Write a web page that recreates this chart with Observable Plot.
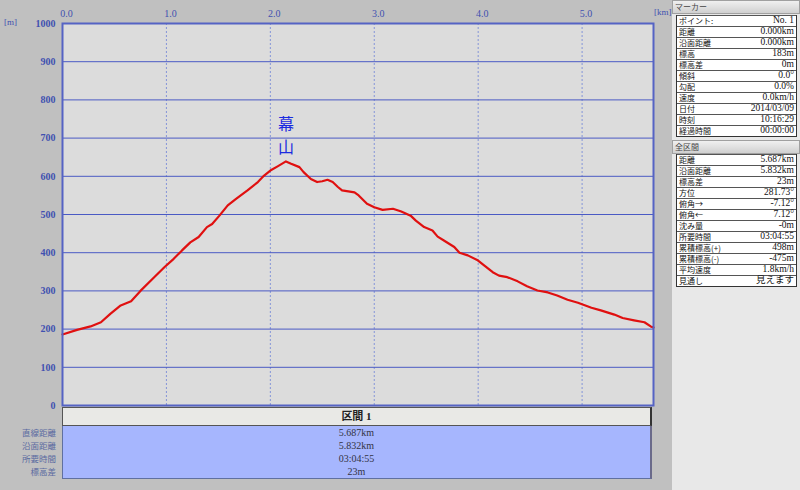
<!DOCTYPE html>
<html><head><meta charset="utf-8">
<script src="https://cdn.jsdelivr.net/npm/d3@7"></script>
<script src="https://cdn.jsdelivr.net/npm/@observablehq/plot@0.6"></script>
<style>
html,body{margin:0;padding:0;width:800px;height:490px;overflow:hidden;background:#c0c0c0;font-family:"Liberation Serif","Noto Sans CJK JP",serif;}
#main{position:absolute;left:0;top:0;width:672px;height:490px;background:#c0c0c0;}
#chart{position:absolute;left:0;top:0;}
.axlab{position:absolute;font-size:9px;color:#4050b0;white-space:nowrap;}
#sec{position:absolute;left:62px;top:407px;width:590px;}
#sechead{height:17px;background:#e9e9e6;border:1px solid #555;border-right:2px solid #333;text-align:center;font-size:11px;line-height:17px;font-weight:bold;color:#222;}
#secbody{background:#a6b6fe;border:1px solid #6070a0;border-right:2px solid #6a6a8a;border-top:none;height:52px;}
.secrow{height:13px;line-height:13px;font-size:10px;text-align:center;color:#334;}
#seclabels{position:absolute;left:0;top:426px;width:56px;}
.seclab{height:13px;line-height:13px;font-size:8.5px;text-align:right;color:#5a6aa0;font-family:"Noto Sans CJK JP",sans-serif;}
#side{position:absolute;left:672px;top:0;width:128px;height:490px;background:#e8e8e8;}
.shead{position:absolute;left:0;width:124px;height:12px;background:linear-gradient(#f0f0f0,#d0d0d0);border:1px solid #a0a0a0;font-size:8px;line-height:12px;padding-left:2px;color:#444;font-family:"Noto Sans CJK JP",sans-serif;}
.st{position:absolute;left:4px;width:119px;background:#fff;border:1px solid #333;border-top:none;}
.row{position:relative;height:10px;border-top:1px solid #555;}
.row .l{position:absolute;left:2px;top:-1px;font-size:8px;line-height:11px;font-family:"Noto Sans CJK JP",sans-serif;color:#111;white-space:nowrap;}
.row .v{position:absolute;right:2px;top:-1px;font-size:9.5px;line-height:11px;color:#111;white-space:nowrap;}
</style></head>
<body>
<div id="main">
  <div id="chart"></div>
  <div class="axlab" style="left:4px;top:17px;">[m]</div>
  <div class="axlab" style="left:654px;top:7px;">[km]</div>
  <div id="seclabels"></div>
  <div id="sec"><div id="sechead"></div><div id="secbody"></div></div>
</div>
<div id="side">
  <div class="shead" style="top:0;">マーカー</div>
  <div class="st" id="t1" style="top:15px;"></div>
  <div class="shead" style="top:140px;">全区間</div>
  <div class="st" id="t2" style="top:154px;"></div>
</div>
<script>
// ---- data ----
const distanceKm = [0.00,0.14,0.27,0.37,0.46,0.56,0.66,0.75,0.88,0.98,1.07,1.15,1.23,1.31,1.39,1.44,1.51,1.59,1.67,1.78,1.88,1.94,2.00,2.07,2.15,2.20,2.28,2.32,2.39,2.45,2.50,2.55,2.60,2.65,2.69,2.81,2.85,2.93,3.00,3.08,3.18,3.26,3.35,3.40,3.48,3.56,3.61,3.67,3.77,3.82,3.90,3.99,4.06,4.14,4.20,4.28,4.38,4.47,4.57,4.67,4.76,4.86,4.96,5.09,5.18,5.31,5.39,5.50,5.60,5.66,5.687];
const elevationM = [186,198,207,218,240,262,273,300,335,362,384,406,427,441,467,475,497,524,541,563,585,602,615,626,639,633,624,611,593,585,587,591,585,572,563,558,550,528,519,512,515,508,497,484,467,458,442,432,415,400,393,381,366,349,340,336,325,312,301,296,288,277,269,256,249,238,229,223,218,207,204];
const totalKm = 5.687;
const xTicks = [0,1,2,3,4,5];
const yTicks = [0,100,200,300,400,500,600,700,800,900,1000];
const peakName = ["幕\n山"];
const peakKm = [2.15];
const peakElev = [639];

const sectionTitle = "区間 1";
const sectionLabels = ["直線距離","沿面距離","所要時間","標高差"];
const sectionValues = ["5.687km","5.832km","03:04:55","23m"];

const markerLabels = ["ポイント:","距離","沿面距離","標高","標高差","傾斜","勾配","速度","日付","時刻","経過時間"];
const markerValues = ["No. 1","0.000km","0.000km","183m","0m","0.0°","0.0%","0.0km/h","2014/03/09","10:16:29","00:00:00"];
const totalLabels = ["距離","沿面距離","標高差","方位","俯角→","俯角←","沈み量","所要時間","累積標高(+)","累積標高(-)","平均速度","見通し"];
const totalValues = ["5.687km","5.832km","23m","281.73°","-7.12°","7.12°","-0m","03:04:55","498m","-475m","1.8km/h","見えます"];

// ---- chart ----
const profile = distanceKm.map((d,i)=>({km:d, elev:elevationM[i]}));
const peak = peakName.map((n,i)=>({name:n, km:peakKm[i], elev:peakElev[i]}));

const chart = Plot.plot({
  width: 672, height: 412,
  marginLeft: 62, marginRight: 19, marginTop: 23, marginBottom: 7,
  style: {background:"transparent", fontSize:"10px", fontFamily:"'Liberation Serif', serif", color:"#4050b0"},
  x: {domain:[0,totalKm], label:null},
  y: {domain:[0,1000], label:null},
  marks: [
    Plot.frame({fill:"#dcdcdc"}),
    Plot.gridX(xTicks.filter(d=>d>0), {stroke:"#8494d8", strokeOpacity:1, strokeDasharray:"2,2"}),
    Plot.gridY(yTicks, {stroke:"#4a5ac4", strokeOpacity:1}),
    Plot.line(profile, {x:"km", y:"elev", stroke:"#e01010", strokeWidth:2.2}),
    Plot.text(peak, {x:"km", y:"elev", text:"name", dy:-8, lineAnchor:"bottom", lineHeight:1.45, fontSize:16, fill:"#1a2ae0", fontFamily:"Noto Sans CJK JP"}),
    Plot.frame({stroke:"#5563c4", strokeWidth:2}),
    Plot.axisX(xTicks, {anchor:"top", tickSize:0, tickPadding:7, dx:4, tickFormat:d=>d.toFixed(1), fill:"#4050b0", label:null}),
    Plot.axisY(yTicks, {anchor:"left", tickSize:0, tickPadding:7, tickFormat:d=>String(d), fill:"#4050b0", fontWeight:"bold", label:null})
  ]
});
document.getElementById("chart").appendChild(chart);

// ---- section table ----
document.getElementById("sechead").textContent = sectionTitle;
const sb = document.getElementById("secbody");
sectionValues.forEach(v=>{const d=document.createElement("div");d.className="secrow";d.textContent=v;sb.appendChild(d);});
const sl = document.getElementById("seclabels");
sectionLabels.forEach(v=>{const d=document.createElement("div");d.className="seclab";d.textContent=v;sl.appendChild(d);});

function fill(id, labels, values){
  const t=document.getElementById(id);
  labels.forEach((l,i)=>{
    const r=document.createElement("div");r.className="row";
    const a=document.createElement("span");a.className="l";a.textContent=l;
    const b=document.createElement("span");b.className="v";b.textContent=values[i];
    r.appendChild(a);r.appendChild(b);t.appendChild(r);
  });
}
fill("t1", markerLabels, markerValues);
fill("t2", totalLabels, totalValues);
</script>
</body></html>
